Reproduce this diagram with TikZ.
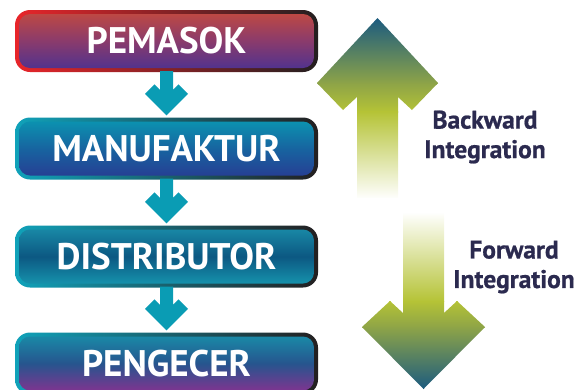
\documentclass[tikz,border=0pt]{standalone}
\usepackage{fontspec}
\setmainfont{PT Sans}
\newfontfamily\sidefont[BoldFeatures={FakeBold=0.8}]{PT Sans}
\definecolor{flowteal}{HTML}{0A9CB4}
\definecolor{bordteal}{HTML}{10A2BA}
\definecolor{borddark}{HTML}{231F20}
\definecolor{bordred}{HTML}{E8252A}
\definecolor{navytext}{HTML}{2B2A4F}
\definecolor{tipblue}{HTML}{1A5A80}
\definecolor{olive}{HTML}{8EA447}
\definecolor{lime}{HTML}{B5C336}
% stage fills
\definecolor{supTop}{HTML}{C44A3E}
\definecolor{supMid}{HTML}{8A3B6C}
\definecolor{supBot}{HTML}{4A3192}
\definecolor{manTop}{HTML}{0A98B2}
\definecolor{manMid}{HTML}{1764A0}
\definecolor{manBot}{HTML}{283A92}
\definecolor{disTop}{HTML}{1A8EAA}
\definecolor{disMid}{HTML}{0C5882}
\definecolor{disBot}{HTML}{179AB2}
\definecolor{retTop}{HTML}{1890AA}
\definecolor{retMid}{HTML}{26558E}
\definecolor{retBot}{HTML}{8A3090}
\begin{document}
\begin{tikzpicture}[x=1pt,y=-1pt,
  stage/.style n args={4}{
    minimum width=303pt, minimum height=62pt, inner sep=0pt,
    rounded corners=15pt, text=white,
    font=\bfseries\fontsize{37}{40}\selectfont,
    left color=#1, right color=borddark,
    path picture={
      \shade[rounded corners=11pt, top color=#2, bottom color=#4, middle color=#3]
        ([shift={(4pt,-4pt)}]path picture bounding box.north west) rectangle
        ([shift={(-4pt,4pt)}]path picture bounding box.south east);
    }},
  flowarrow/.style={fill=flowteal},
  sidetext/.style={text=navytext, align=center,
    font=\sidefont\bfseries\fontsize{25.5}{29.5}\selectfont}
]
\useasboundingbox (0,0) rectangle (587,389);
\clip (0,0) rectangle (587,389);

% supply chain stages
\node[stage={bordred}{supTop}{supMid}{supBot}] (b1) at (166.5,41) {PEMASOK};
\node[stage={bordteal}{manTop}{manMid}{manBot}] (b2) at (166.5,148.5) {MANUFAKTUR};
\node[stage={bordteal}{disTop}{disMid}{disBot}] (b3) at (166.5,256.5) {DISTRIBUTOR};
\node[stage={bordteal}{retTop}{retMid}{retBot}] (b4) at (166.5,363.5) {PENGECER};

% flow arrows between stages
\foreach \a/\b in {b1/b2,b2/b3,b3/b4}{
  \fill[flowarrow] ([xshift=-6.5pt,yshift=1pt]\a.south)
    -- ([xshift=-6.5pt,yshift=27.5pt]\b.north)
    -- ([xshift=-12pt,yshift=33pt]\b.north)
    -- ([xshift=-21.5pt,yshift=23.5pt]\b.north)
    -- ([yshift=2pt]\b.north)
    -- ([xshift=21.5pt,yshift=23.5pt]\b.north)
    -- ([xshift=12pt,yshift=33pt]\b.north)
    -- ([xshift=6.5pt,yshift=27.5pt]\b.north)
    -- ([xshift=6.5pt,yshift=1pt]\a.south) -- cycle;
}

% backward integration arrow (up)
\begin{scope}
  \clip (357,198) -- (357,97) -- (343,110) -- (317,83) -- (377.5,18)
    -- (438,83) -- (412,110) -- (398,97) -- (398,198) -- cycle;
  \shade[top color=tipblue, bottom color=olive] (310,17) rectangle (445,84);
  \shade[top color=olive, bottom color=lime] (310,83.5) rectangle (445,112);
  \shade[top color=lime, bottom color=white] (310,111.5) rectangle (445,199);
\end{scope}

% forward integration arrow (down)
\begin{scope}
  \clip (403,213) -- (403,313) -- (390,301) -- (362,327) -- (423.5,389)
    -- (485,327) -- (457,301) -- (444,313) -- (444,213) -- cycle;
  \shade[top color=white, bottom color=lime] (355,212) rectangle (492,301.5);
  \shade[top color=lime, bottom color=olive] (355,301) rectangle (492,327.5);
  \shade[top color=olive, bottom color=tipblue] (355,327) rectangle (492,390);
\end{scope}

\node[sidetext] (back) at (485,137) {Backward\\Integration};
\node[sidetext] (fwd) at (514,267) {Forward\\Integration};
\end{tikzpicture}
\end{document}
